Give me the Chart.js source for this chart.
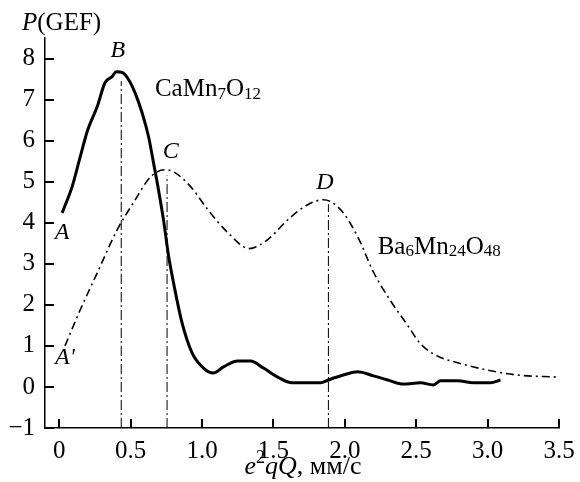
<!DOCTYPE html>
<html>
<head>
<meta charset="utf-8">
<script src="https://cdn.jsdelivr.net/npm/chart.js@4.4.1/dist/chart.umd.min.js"></script>
<style>
  html, body { margin: 0; padding: 0; background: #fff; }
  #wrap { width: 580px; height: 482px; }
</style>
</head>
<body>
<div id="wrap"><canvas id="grafico" width="580" height="482"></canvas></div>
<script>
// CaMn7O12 (сплошная кривая)
const caX = [0.02, 0.09, 0.147, 0.20, 0.266, 0.32, 0.37, 0.40, 0.44, 0.485, 0.53, 0.58, 0.625, 0.66, 0.695, 0.73, 0.765, 0.80, 0.86, 0.93, 1.01, 1.08, 1.15, 1.25, 1.34, 1.43, 1.53, 1.63, 1.74, 1.83, 1.885, 1.99, 2.09, 2.20, 2.30, 2.41, 2.53, 2.62, 2.67, 2.79, 2.90, 3.02, 3.09]
const caY = [4.24, 4.88, 5.61, 6.27, 6.83, 7.41, 7.56, 7.68, 7.66, 7.49, 7.17, 6.68, 6.10, 5.46, 4.80, 4.07, 3.20, 2.54, 1.56, 0.83, 0.46, 0.34, 0.49, 0.63, 0.63, 0.46, 0.24, 0.10, 0.10, 0.10, 0.17, 0.29, 0.37, 0.27, 0.17, 0.07, 0.10, 0.05, 0.15, 0.15, 0.10, 0.10, 0.17]

// Ba6Mn24O48 (штрих-пунктир)
const baX = [0.04, 0.147, 0.266, 0.406, 0.52, 0.64, 0.74, 0.80, 0.92, 1.04, 1.18, 1.33, 1.46, 1.60, 1.74, 1.85, 1.97, 2.09, 2.20, 2.32, 2.44, 2.53, 2.65, 2.79, 3.00, 3.21, 3.49]
const baY = [1.00, 1.88, 2.78, 3.83, 4.49, 5.12, 5.29, 5.24, 4.88, 4.32, 3.76, 3.37, 3.59, 4.07, 4.44, 4.56, 4.32, 3.66, 2.80, 2.10, 1.50, 1.05, 0.75, 0.59, 0.41, 0.29, 0.24]

// вертикальные линии B, C, D
const peakX = [0.434, 0.755, 1.885]
const peakTop = [7.45, 5.15, 4.45]

// деления осей
const xTicks = [0, 0.5, 1.0, 1.5, 2.0, 2.5, 3.0, 3.5]
const yTicks = [-1, 0, 1, 2, 3, 4, 5, 6, 7, 8]

const SERIF = '"Liberation Serif", "DejaVu Serif", serif'

function pontos(xs, ys) {
  return xs.map((x, i) => ({ x: x, y: ys[i] }))
}

const datasets = [
  {
    data: pontos(caX, caY),
    borderColor: '#000',
    borderWidth: 3,
    cubicInterpolationMode: 'monotone',
    pointRadius: 0
  },
  {
    data: pontos(baX, baY),
    borderColor: '#000',
    borderWidth: 1.6,
    borderDash: [8, 4, 2, 4],
    cubicInterpolationMode: 'monotone',
    pointRadius: 0
  }
]
peakX.forEach((x, i) => {
  datasets.push({
    data: [{ x: x, y: -1 }, { x: x, y: peakTop[i] }],
    borderColor: '#000',
    borderWidth: 1,
    borderDash: [10, 3, 2, 3],
    pointRadius: 0
  })
})

// подписи внутри графика (в координатах данных)
const rotulos = [
  { t: 'B', x: 0.41, y: 8.2 },
  { t: 'A', x: 0.02, y: 3.76 },
  { t: "A'", x: 0.04, y: 0.72 },
  { t: 'C', x: 0.78, y: 5.72 },
  { t: 'D', x: 1.86, y: 4.98 }
]

function fonte(tipo, base) {
  if (tipo === 's' || tipo === 'p') return Math.round(base * 0.68) + 'px ' + SERIF
  if (tipo === 'i') return 'italic ' + base + 'px ' + SERIF
  return base + 'px ' + SERIF
}

function textoComIndices(ctx, partes, x, y, base) {
  // partes: [texto, tipo] tipo: 'n' normal, 's' subscrito, 'p' sobrescrito, 'i' italico
  let cx = x
  for (const [t, tipo] of partes) {
    let dy = 0
    if (tipo === 's') dy = base * 0.2
    if (tipo === 'p') dy = -base * 0.35
    ctx.font = fonte(tipo, base)
    ctx.fillText(t, cx, y + dy)
    cx += ctx.measureText(t).width
  }
  return cx - x
}

function larguraTexto(ctx, partes, base) {
  let w = 0
  for (const [t, tipo] of partes) {
    ctx.font = fonte(tipo, base)
    w += ctx.measureText(t).width
  }
  return w
}

const desenhos = {
  id: 'desenhos',
  afterDraw(chart) {
    const ctx = chart.ctx
    const xs = chart.scales.x
    const ys = chart.scales.y
    const area = chart.chartArea
    ctx.save()
    ctx.fillStyle = '#000'
    // tracinhos para dentro (retangulos finos)
    for (const v of xTicks) {
      const px = Math.round(xs.getPixelForValue(v))
      ctx.fillRect(px - 1, area.bottom - 9, 2, 9)
    }
    for (const v of yTicks) {
      const py = Math.round(ys.getPixelForValue(v))
      ctx.fillRect(area.left, py - 1, 9, 2)
    }

    ctx.textBaseline = 'middle'
    ctx.textAlign = 'center'
    for (const r of rotulos) {
      ctx.font = 'italic 24px ' + SERIF
      ctx.fillText(r.t, xs.getPixelForValue(r.x), ys.getPixelForValue(r.y))
    }

    ctx.textAlign = 'left'
    textoComIndices(ctx, [['Ca', 'n'], ['Mn', 'n'], ['7', 's'], ['O', 'n'], ['12', 's']],
      xs.getPixelForValue(0.67), ys.getPixelForValue(7.24), 25)
    textoComIndices(ctx, [['Ba', 'n'], ['6', 's'], ['Mn', 'n'], ['24', 's'], ['O', 'n'], ['48', 's']],
      xs.getPixelForValue(2.23), ys.getPixelForValue(3.41), 25)

    // titulo do eixo y
    textoComIndices(ctx, [['P', 'i'], ['(GEF)', 'n']], 22, 23, 25)

    // titulo do eixo x
    const partesX = [['e', 'i'], ['2', 'p'], ['qQ', 'i'], [', мм/с', 'n']]
    const largura = larguraTexto(ctx, partesX, 26)
    textoComIndices(ctx, partesX, 303 - largura / 2, 467, 26)
    ctx.restore()
  }
}

new Chart(document.getElementById('grafico'), {
  type: 'line',
  data: { datasets: datasets },
  options: {
    responsive: false,
    animation: false,
    layout: { padding: { left: 0, right: 21, top: 38, bottom: 0 } },
    plugins: { legend: { display: false }, tooltip: { enabled: false } },
    scales: {
      x: {
        type: 'linear',
        min: -0.1,
        max: 3.5,
        afterBuildTicks: (s) => { s.ticks = xTicks.map(v => ({ value: v })) },
        afterFit: (s) => { s.height = 54; s.paddingLeft = 0; s.paddingRight = 0 },
        grid: { display: false, drawTicks: false },
        border: { display: true, color: '#000', width: 1.5 },
        ticks: {
          color: '#000',
          padding: 8,
          maxRotation: 0,
          autoSkip: false,
          font: { family: SERIF, size: 25 },
          callback: (v) => v === 0 ? '0' : Number(v).toFixed(1)
        }
      },
      y: {
        min: -1,
        max: 8.5,
        afterBuildTicks: (s) => { s.ticks = yTicks.map(v => ({ value: v })) },
        afterFit: (s) => { s.width = 45; s.paddingTop = 0; s.paddingBottom = 0 },
        grid: { display: false, drawTicks: false },
        border: { display: true, color: '#000', width: 1.5 },
        ticks: {
          color: '#000',
          padding: 10,
          autoSkip: false,
          font: { family: SERIF, size: 25 },
          callback: (v) => v < 0 ? '\u2212' + Math.abs(v) : String(v)
        }
      }
    }
  },
  plugins: [desenhos]
})
</script>
</body>
</html>
